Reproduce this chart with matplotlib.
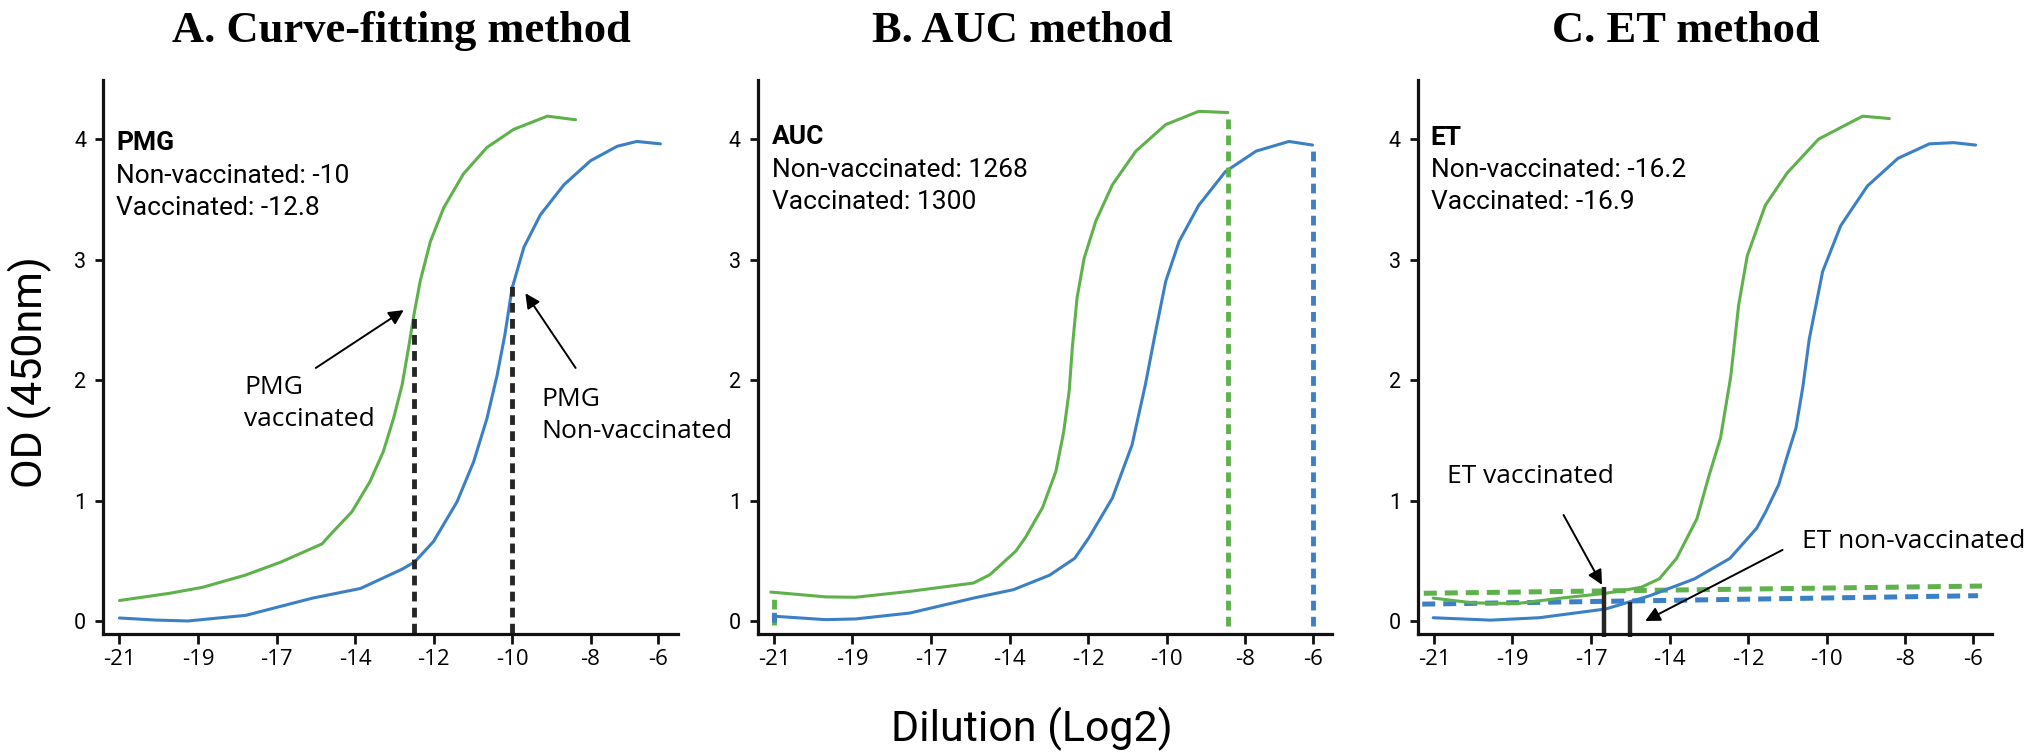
import numpy as np
import matplotlib
matplotlib.use("Agg")
import matplotlib.pyplot as plt

# ---------------- data ----------------
dilution_ticks = [-21, -19, -17, -14, -12, -10, -8, -6]
dilution_labels = ["-21", "-19", "-17", "-14", "-12", "-10", "-8", "-6"]
od_ticks = [0, 1, 2, 3, 4]

# Panel A (curve fitting)
a_vacc_x = [-21.0, -19.72, -18.88, -17.8, -16.82, -15.26, -14.93, -14.12, -13.62, -13.28, -13.02,
            -12.8, -12.64, -12.5, -12.34, -12.08, -11.74, -11.24, -10.64, -9.96, -9.1, -8.38]
a_vacc_y = [0.17, 0.23, 0.28, 0.38, 0.49, 0.64, 0.72, 0.906, 1.156, 1.405, 1.68,
            1.96, 2.26, 2.54, 2.82, 3.15, 3.43, 3.71, 3.93, 4.08, 4.19, 4.16]
a_non_x = [-21.0, -20.1, -19.26, -17.78, -15.62, -13.86, -12.8, -12.48, -12.0, -11.4, -10.98,
           -10.64, -10.38, -10.18, -10.0, -9.7, -9.28, -8.68, -8.0, -7.21, -6.63, -5.93]
a_non_y = [0.025, 0.008, 0.0, 0.047, 0.19, 0.27, 0.43, 0.49, 0.66, 0.99, 1.32,
           1.68, 2.04, 2.38, 2.76, 3.10, 3.37, 3.62, 3.82, 3.94, 3.98, 3.96]
pmg_x = [-12.5, -10.0]          # vaccinated, non-vaccinated
pmg_top = [2.54, 2.78]

# Panel B (AUC)
b_vacc_x = [-21.08, -19.68, -18.92, -17.54, -15.38, -14.75, -13.84, -13.6, -13.16, -12.82, -12.62,
            -12.48, -12.4, -12.28, -12.1, -11.8, -11.38, -10.78, -10.02, -9.18, -8.44]
b_vacc_y = [0.24, 0.20, 0.197, 0.246, 0.315, 0.384, 0.58, 0.69, 0.94, 1.24, 1.57,
            1.91, 2.27, 2.68, 3.01, 3.32, 3.62, 3.90, 4.12, 4.23, 4.22]
b_non_x = [-21.02, -19.68, -18.92, -17.54, -15.38, -13.9, -12.98, -12.34, -11.98, -11.38, -10.88,
           -10.54, -10.28, -10.02, -9.68, -9.18, -8.5, -7.67, -6.7, -6.0]
b_non_y = [0.04, 0.011, 0.017, 0.066, 0.19, 0.26, 0.38, 0.52, 0.69, 1.02, 1.46,
           1.96, 2.40, 2.82, 3.15, 3.45, 3.73, 3.90, 3.98, 3.95]
auc_vacc_bounds = [-21.0, -8.44]
auc_non_bounds = [-21.0, -6.0]

# Panel C (endpoint titer)
c_vacc_x = [-21.02, -20.0, -18.88, -17.76, -16.43, -15.08, -14.39, -13.82, -13.3, -13.0, -12.7,
            -12.44, -12.24, -12.02, -11.56, -11.0, -10.2, -9.08, -8.4]
c_vacc_y = [0.19, 0.15, 0.145, 0.19, 0.23, 0.28, 0.35, 0.52, 0.85, 1.20, 1.52,
            2.03, 2.62, 3.03, 3.45, 3.72, 4.00, 4.19, 4.17]
c_non_x = [-21.02, -19.56, -18.32, -16.43, -14.75, -13.36, -12.46, -11.78, -11.56, -11.22, -11.0,
           -10.78, -10.6, -10.44, -10.1, -9.64, -8.96, -8.18, -7.28, -6.56, -5.91]
c_non_y = [0.027, 0.007, 0.027, 0.10, 0.21, 0.35, 0.52, 0.77, 0.90, 1.13, 1.37,
           1.60, 1.95, 2.34, 2.90, 3.28, 3.61, 3.84, 3.96, 3.97, 3.95]
cut_vacc_x = [-21.26, -5.72]
cut_vacc_y = [0.23, 0.29]
cut_non_x = [-21.3, -5.84]
cut_non_y = [0.14, 0.21]
et_x = [-16.49, -15.5]          # vaccinated, non-vaccinated
et_top = [0.28, 0.16]

# ---------------- style ----------------
GREEN = "#5eb14b"
BLUE = "#3b80c6"
DARK = "#262626"
plt.rcParams["font.family"] = ["Roboto", "DejaVu Sans"]

tick_pos = np.array([0, 1, 2, 3, 4, 5, 6, 6.86])
tick_val = np.array(dilution_ticks, dtype=float)


def fwd(d):
    d = np.asarray(d, dtype=float)
    p = np.interp(d, tick_val, tick_pos)
    lo = (tick_pos[1] - tick_pos[0]) / (tick_val[1] - tick_val[0])
    hi = (tick_pos[-1] - tick_pos[-2]) / (tick_val[-1] - tick_val[-2])
    p = np.where(d < tick_val[0], tick_pos[0] + (d - tick_val[0]) * lo, p)
    p = np.where(d > tick_val[-1], tick_pos[-1] + (d - tick_val[-1]) * hi, p)
    return p


def inv(p):
    p = np.asarray(p, dtype=float)
    d = np.interp(p, tick_pos, tick_val)
    lo = (tick_val[1] - tick_val[0]) / (tick_pos[1] - tick_pos[0])
    hi = (tick_val[-1] - tick_val[-2]) / (tick_pos[-1] - tick_pos[-2])
    d = np.where(p < tick_pos[0], tick_val[0] + (p - tick_pos[0]) * lo, d)
    d = np.where(p > tick_pos[-1], tick_val[-1] + (p - tick_pos[-1]) * hi, d)
    return d


W, H = 2034, 755
fig = plt.figure(figsize=(W / 100, H / 100), dpi=100)

ax_left = [103, 757.5, 1417.5]
ax_w = 574.7
ax_bottom, ax_top = 634, 80
axes = []
for lx in ax_left:
    ax = fig.add_axes([lx / W, 1 - ax_bottom / H, ax_w / W, (ax_bottom - ax_top) / H])
    ax.set_xscale("function", functions=(fwd, inv))
    ax.set_xlim(float(inv(-0.21)), float(inv(7.11)))
    ax.set_ylim(-0.108, 4.49)
    for s in ["top", "right"]:
        ax.spines[s].set_visible(False)
    for s in ["left", "bottom"]:
        ax.spines[s].set_linewidth(2.3)
        ax.spines[s].set_color("#111111")
    ax.set_xticks(dilution_ticks)
    ax.set_xticklabels(dilution_labels, fontsize=16, family=["Open Sans", "DejaVu Sans"])
    ax.set_yticks(od_ticks)
    ax.set_yticklabels([str(v) for v in od_ticks], fontsize=15.5)
    ax.xaxis.set_minor_locator(matplotlib.ticker.NullLocator())
    ax.tick_params(axis="x", direction="out", length=7, width=2, pad=4, color="#111111")
    ax.tick_params(axis="y", direction="out", length=6, width=2, pad=6, color="#111111")
    ax.patch.set_alpha(0)
    axes.append(ax)

axA, axB, axC = axes
LW = 2.2
LBL = dict(fontsize=19, family=["Open Sans", "DejaVu Sans"], color="black")
ARW = dict(arrowstyle="-|>", color="black", lw=1.4, mutation_scale=22, shrinkA=0, shrinkB=0)
CURVE = dict(lw=LW, solid_capstyle="round", solid_joinstyle="round")


def info(ax, head, l1, l2, x, ys):
    ax.text(x, ys[0], head, fontsize=19, fontweight="bold", va="center", ha="left")
    ax.text(x, ys[1], l1, fontsize=19, va="center", ha="left")
    ax.text(x, ys[2], l2, fontsize=19, va="center", ha="left")


# ---- Panel A ----
axA.plot(a_vacc_x, a_vacc_y, color=GREEN, **CURVE)
axA.plot(a_non_x, a_non_y, color=BLUE, **CURVE)
for x, t in zip(pmg_x, pmg_top):
    axA.plot([x, x], [-0.1, t], color=DARK, lw=3.5, dashes=(2.0, 1.3), solid_capstyle="butt")
info(axA, "PMG", "Non-vaccinated: -10", "Vaccinated: -12.8", -21.08, [3.97, 3.69, 3.43])
axA.text(-17.82, 1.805, "PMG\nvaccinated", va="center", ha="left", linespacing=1.4, **LBL)
axA.annotate("", xy=(-12.76, 2.58), xytext=(-15.5, 2.10), arrowprops=ARW)
axA.text(-9.26, 1.705, "PMG\nNon-vaccinated", va="center", ha="left", linespacing=1.4,
         clip_on=False, **LBL)
axA.annotate("", xy=(-9.66, 2.72), xytext=(-8.38, 2.10), arrowprops=ARW)

# ---- Panel B ----
axB.plot(b_vacc_x, b_vacc_y, color=GREEN, **CURVE)
axB.plot(b_non_x, b_non_y, color=BLUE, **CURVE)
axB.plot([auc_vacc_bounds[0]] * 2, [-0.03, b_vacc_y[0] - 0.02], color=GREEN, lw=3.5,
         dashes=(2.0, 1.3))
axB.plot([auc_vacc_bounds[1]] * 2, [-0.04, b_vacc_y[-1]], color=GREEN, lw=3.5, dashes=(2.0, 1.3))
axB.plot([auc_non_bounds[0]] * 2, [-0.01, b_non_y[0] + 0.05], color=BLUE, lw=3.5,
         dashes=(2.0, 1.3))
axB.plot([auc_non_bounds[1]] * 2, [-0.04, b_non_y[-1]], color=BLUE, lw=3.5, dashes=(2.0, 1.3))
info(axB, "AUC", "Non-vaccinated: 1268", "Vaccinated: 1300", -21.06, [4.02, 3.74, 3.48])

# ---- Panel C ----
axC.plot(cut_vacc_x, cut_vacc_y, color=GREEN, lw=3.6, dashes=(2.6, 1.6), clip_on=False)
axC.plot(cut_non_x, cut_non_y, color=BLUE, lw=3.6, dashes=(2.6, 1.6), clip_on=False)
axC.plot(c_vacc_x, c_vacc_y, color=GREEN, **CURVE)
axC.plot(c_non_x, c_non_y, color=BLUE, **CURVE)
for x, t in zip(et_x, et_top):
    axC.plot([x, x], [-0.13, t], color=DARK, lw=3.2, solid_capstyle="butt", clip_on=False)
info(axC, "ET", "Non-vaccinated: -16.2", "Vaccinated: -16.9", -21.08, [4.01, 3.74, 3.48])
axC.text(-20.66, 1.20, "ET vaccinated", va="center", ha="left", **LBL)
axC.annotate("", xy=(-16.58, 0.30), xytext=(-17.7, 0.88), arrowprops=ARW)
axC.text(-10.62, 0.66, "ET non-vaccinated", va="center", ha="left", clip_on=False, **LBL)
axC.annotate("", xy=(-14.93, 0.0), xytext=(-11.12, 0.59), arrowprops=ARW)

# ---- titles & axis labels ----
TT = dict(fontsize=32, fontweight="bold", family=["Liberation Serif", "DejaVu Serif"],
          ha="center", va="baseline")
fig.text(401 / W, 1 - 42 / H, "A. Curve-fitting method", **TT)
fig.text(1022 / W, 1 - 42 / H, "B. AUC method", **TT)
fig.text(1686 / W, 1 - 42 / H, "C. ET method", **TT)
fig.text(1032 / W, 1 - 729 / H, "Dilution (Log2)", fontsize=31, ha="center", va="center")
fig.text(29.5 / W, 1 - 372 / H, "OD (450nm)", fontsize=31, rotation=90, ha="center", va="center")

fig.savefig("out.png", dpi=100, facecolor="white")
